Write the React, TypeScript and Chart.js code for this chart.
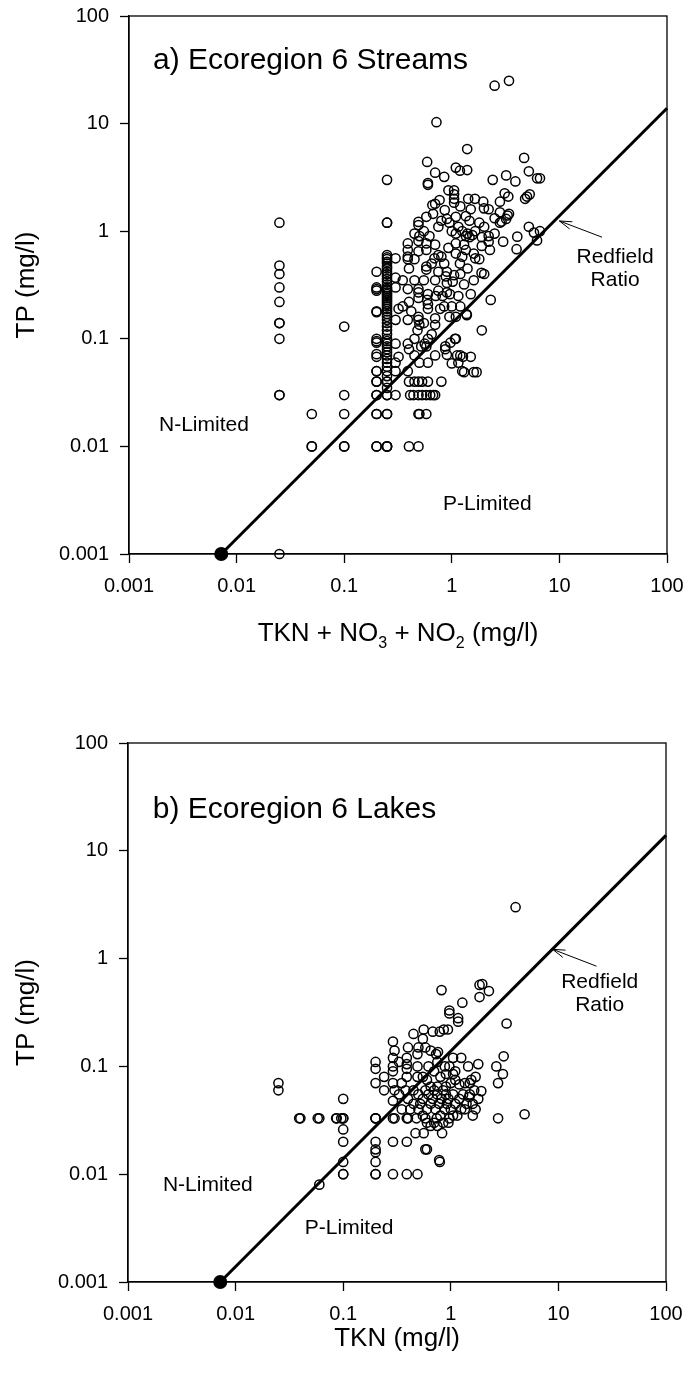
import React, { useEffect, useRef } from "react";
import { Chart, registerables } from "chart.js";

Chart.register(...registerables);

const FONT = '"Liberation Sans", Arial, Helvetica, sans-serif';

const axisTicks = [0.001, 0.01, 0.1, 1, 10, 100];
const axisTickLabels = ["0.001", "0.01", "0.1", "1", "10", "100"];

// Redfield ratio line (TN vs TP), start point marked with a filled dot
const redfieldLine: [number, number][] = [[0.0072, 0.001], [100, 13.9]];

// ---------- a) Ecoregion 6 Streams : [TKN+NO3+NO2, TP] ----------
const streamLowN: [number, number][] = [
  [0.025, 1.2], [0.025, 0.48], [0.025, 0.4], [0.025, 0.3], [0.025, 0.22], [0.025, 0.14], [0.025, 0.14],
  [0.025, 0.1], [0.025, 0.03], [0.025, 0.03], [0.025, 0.001],
  [0.05, 0.02], [0.05, 0.01], [0.05, 0.01],
  [0.1, 0.13], [0.1, 0.03], [0.1, 0.02], [0.1, 0.01], [0.1, 0.01],
];

const streamColumns: [number, number][] = [
  [0.2, 0.42], [0.2, 0.3], [0.2, 0.29], [0.2, 0.28], [0.2, 0.18], [0.2, 0.177], [0.2, 0.1], [0.2, 0.095],
  [0.2, 0.092], [0.2, 0.072], [0.2, 0.068], [0.2, 0.05], [0.2, 0.05], [0.2, 0.04], [0.2, 0.04], [0.2, 0.03],
  [0.2, 0.03], [0.2, 0.02], [0.2, 0.02], [0.2, 0.01], [0.2, 0.01],
  [0.25, 3.0], [0.25, 1.2], [0.25, 1.2], [0.25, 0.6], [0.25, 0.57], [0.25, 0.55], [0.25, 0.52], [0.25, 0.5],
  [0.25, 0.47], [0.25, 0.45], [0.25, 0.42], [0.25, 0.4], [0.25, 0.38], [0.25, 0.36], [0.25, 0.34], [0.25, 0.32],
  [0.25, 0.3], [0.25, 0.29], [0.25, 0.28], [0.25, 0.27], [0.25, 0.26], [0.25, 0.25], [0.25, 0.24], [0.25, 0.23],
  [0.25, 0.22], [0.25, 0.21], [0.25, 0.2], [0.25, 0.19], [0.25, 0.18], [0.25, 0.17], [0.25, 0.16], [0.25, 0.15],
  [0.25, 0.14], [0.25, 0.13], [0.25, 0.12], [0.25, 0.11], [0.25, 0.1], [0.25, 0.095], [0.25, 0.09], [0.25, 0.085],
  [0.25, 0.08], [0.25, 0.075], [0.25, 0.07], [0.25, 0.065], [0.25, 0.06], [0.25, 0.055], [0.25, 0.05], [0.25, 0.045],
  [0.25, 0.04], [0.25, 0.04], [0.25, 0.035], [0.25, 0.03], [0.25, 0.03], [0.25, 0.02], [0.25, 0.02], [0.25, 0.01],
  [0.25, 0.01], [0.25, 0.01],
  [0.3, 0.56], [0.3, 0.37], [0.3, 0.3], [0.3, 0.15], [0.3, 0.09], [0.3, 0.06], [0.3, 0.05], [0.3, 0.03],
];

const streamRows: [number, number][] = [
  [0.4, 0.04], [0.45, 0.04], [0.49, 0.04], [0.53, 0.04], [0.6, 0.04], [0.8, 0.04],
  [0.41, 0.03], [0.44, 0.03], [0.49, 0.03], [0.53, 0.03], [0.58, 0.03], [0.63, 0.03], [0.67, 0.03], [0.7, 0.03],
  [0.49, 0.02], [0.58, 0.02], [0.5, 0.02],
  [0.4, 0.01], [0.49, 0.01],
  [0.32, 0.19], [0.32, 0.068], [0.39, 0.05], [0.45, 0.07], [0.5, 0.06],
];

const streamCloud: [number, number][] = [
  [0.39, 0.77], [0.39, 0.67], [0.39, 0.58], [0.39, 0.55], [0.49, 0.81], [0.49, 0.65], [0.58, 0.77], [0.58, 0.67],
  [0.58, 0.47], [0.58, 0.44], [0.69, 0.56], [0.8, 0.58], [0.93, 0.7], [1.09, 0.95], [1.09, 0.77], [1.09, 0.62],
  [1.19, 0.5], [1.35, 0.9], [1.4, 0.95], [1.46, 0.88], [1.55, 0.92], [1.9, 0.88], [1.9, 0.73], [1.6, 0.62],
  [1.65, 0.56], [1.35, 0.67], [1.25, 0.58], [2.2, 0.9], [2.0, 1.1], [1.65, 1.0],
  [0.9, 0.42], [0.88, 0.38], [0.9, 0.33], [1.05, 0.39], [1.02, 0.34], [0.9, 0.27], [0.82, 0.25], [0.96, 0.26],
  [1.15, 0.25], [0.71, 0.25], [0.6, 0.26], [0.6, 0.21], [0.6, 0.19], [0.59, 0.23], [0.49, 0.29], [0.49, 0.27],
  [0.49, 0.24], [0.39, 0.29], [0.4, 0.22], [0.39, 0.15], [0.49, 0.16], [0.49, 0.15], [0.5, 0.135], [0.7, 0.155],
  [0.7, 0.135], [0.65, 0.11], [0.78, 0.19], [0.95, 0.16], [1.09, 0.16], [0.48, 0.12], [0.6, 0.1], [0.56, 0.09],
  [0.52, 0.085], [0.39, 0.09], [0.4, 0.08], [0.6, 0.06], [0.7, 0.07], [0.87, 0.08], [0.58, 0.085],
  [2.3, 0.23], [1.9, 0.12], [1.37, 0.17], [1.5, 0.26], [1.07, 0.1], [1.27, 0.068], [1.5, 0.068], [1.3, 0.049],
  [1.6, 0.049], [1.7, 0.049], [0.9, 0.071], [0.97, 0.092], [0.87, 0.085], [1.38, 0.166], [1.15, 0.06], [1.25, 0.05],
  [1.09, 0.1], [1.0, 0.059], [1.12, 0.07], [1.2, 0.07],
  [0.45, 0.95], [0.5, 0.9], [0.55, 1.0], [0.62, 0.9], [0.75, 1.1], [0.8, 1.25], [0.95, 1.2], [1.0, 1.0],
  [1.15, 1.1], [1.25, 1.0], [1.3, 0.75], [0.7, 0.75], [0.75, 0.6], [0.85, 0.5], [0.65, 0.5], [0.45, 0.55],
  [0.4, 0.45], [0.45, 0.35], [0.55, 0.35], [0.7, 0.35], [0.75, 0.42], [1.2, 0.4], [1.3, 0.32], [1.4, 0.45],
  [1.6, 0.35], [1.8, 0.55], [2.2, 0.8], [2.5, 0.95], [3.0, 0.8], [0.75, 0.28], [0.85, 0.2], [1.0, 0.2],
  [1.2, 0.2], [0.45, 0.1], [0.35, 0.35], [0.35, 0.2], [0.42, 0.18], [0.55, 0.14],
];

const streamHigh: [number, number][] = [
  [2.5, 22.5], [3.4, 25], [0.72, 10.3], [1.39, 5.8], [4.7, 4.8], [0.59, 4.4], [0.7, 3.5], [0.85, 3.2],
  [1.09, 3.9], [1.19, 3.65], [1.39, 3.7], [0.6, 2.8], [0.6, 2.7], [2.4, 3.0], [3.2, 3.3], [3.9, 2.9],
  [5.2, 3.6], [6.2, 3.1], [6.6, 3.1], [0.93, 2.4], [1.05, 2.4], [1.05, 2.2], [1.05, 2.0], [1.05, 1.84],
  [0.77, 1.95], [0.66, 1.75], [0.7, 1.8], [1.42, 2.0], [1.64, 2.0], [1.96, 1.88], [1.99, 1.63], [2.8, 1.88],
  [3.1, 2.25], [3.35, 2.1], [4.8, 2.0], [5.0, 2.1], [5.3, 2.2], [0.49, 1.14], [0.49, 1.22], [0.58, 1.36],
  [0.67, 1.45], [0.86, 1.57], [1.09, 1.36], [1.35, 1.38], [1.46, 1.25], [2.5, 1.32], [2.9, 1.23], [2.8, 1.2],
  [3.2, 1.3], [3.4, 1.45], [3.3, 1.4], [5.2, 1.1], [5.8, 0.97], [6.2, 0.82], [6.6, 1.0], [4.06, 0.89],
  [4.0, 0.68], [2.26, 0.67], [1.89, 0.41], [2.0, 0.4], [2.8, 1.5], [2.2, 1.6], [1.8, 1.2], [1.5, 1.6],
  [1.2, 1.7], [0.9, 1.3],
];

// ---------- b) Ecoregion 6 Lakes : [TKN, TP] ----------
const lakeLowN: [number, number][] = [
  [0.025, 0.07], [0.025, 0.06],
  [0.04, 0.033], [0.06, 0.033], [0.087, 0.033], [0.1, 0.033], [0.1, 0.033], [0.1, 0.05], [0.1, 0.026],
  [0.1, 0.02], [0.1, 0.013], [0.1, 0.01], [0.1, 0.01], [0.06, 0.008],
  [0.2, 0.11], [0.2, 0.095], [0.2, 0.07], [0.24, 0.08], [0.24, 0.06], [0.2, 0.033], [0.2, 0.033],
  [0.2, 0.02], [0.2, 0.016], [0.2, 0.013], [0.2, 0.01], [0.2, 0.01],
];

const lakeHigh: [number, number][] = [
  [4.0, 3.0], [0.82, 0.51], [1.28, 0.39], [1.85, 0.57], [1.96, 0.58], [2.26, 0.5], [1.85, 0.44], [0.97, 0.33],
  [0.97, 0.31], [1.17, 0.28], [1.17, 0.26], [0.56, 0.22], [0.68, 0.21], [0.79, 0.21], [0.86, 0.22], [0.94, 0.22],
  [3.3, 0.25], [0.29, 0.17], [0.58, 0.15], [0.76, 0.136],
];

const lakeCloud: [number, number][] = [
  [0.29, 0.12], [0.29, 0.1], [0.29, 0.09], [0.29, 0.07], [0.29, 0.048],
  [0.39, 0.12], [0.39, 0.105], [0.39, 0.095], [0.39, 0.08], [0.49, 0.13], [0.49, 0.1], [0.49, 0.08],
  [0.73, 0.13], [0.88, 0.1], [1.05, 0.12], [1.25, 0.12], [0.97, 0.1],
  [1.45, 0.1], [1.8, 0.105], [1.7, 0.08], [1.55, 0.075], [1.35, 0.07], [1.5, 0.07], [1.2, 0.068],
  [1.1, 0.075], [1.05, 0.085], [1.92, 0.059], [1.48, 0.052], [2.65, 0.1], [3.05, 0.085], [2.75, 0.07],
  [3.1, 0.124], [4.85, 0.036], [2.75, 0.033],
  [0.45, 0.06], [0.5, 0.055], [0.52, 0.045], [0.55, 0.05], [0.58, 0.06], [0.6, 0.04], [0.62, 0.055],
  [0.65, 0.045], [0.68, 0.05], [0.7, 0.06], [0.72, 0.04], [0.75, 0.055], [0.78, 0.045], [0.8, 0.035],
  [0.82, 0.05], [0.85, 0.06], [0.88, 0.04], [0.9, 0.055], [0.92, 0.045], [0.95, 0.05], [1.0, 0.04],
  [1.05, 0.055], [1.1, 0.045], [1.15, 0.035], [1.2, 0.05], [1.25, 0.04], [0.55, 0.035], [0.6, 0.03],
  [0.65, 0.028], [0.7, 0.03], [0.75, 0.028], [0.85, 0.03], [0.5, 0.04], [0.45, 0.045], [0.4, 0.05],
  [0.42, 0.04], [0.65, 0.065], [0.75, 0.065], [0.9, 0.065], [1.0, 0.07], [0.6, 0.075], [0.8, 0.08],
  [0.7, 0.09], [0.55, 0.08], [0.62, 0.1], [0.75, 0.11], [0.9, 0.085], [1.1, 0.09], [1.3, 0.055],
  [1.4, 0.045], [1.35, 0.04], [1.6, 0.045], [1.7, 0.04], [1.8, 0.05], [1.65, 0.06], [1.5, 0.055],
  [1.6, 0.035], [0.95, 0.03], [1.05, 0.035], [0.35, 0.04], [0.38, 0.06], [0.33, 0.055], [0.3, 0.06],
  [0.35, 0.07], [0.33, 0.11], [0.3, 0.14], [0.45, 0.2], [0.55, 0.18], [0.5, 0.15], [0.65, 0.14], [0.4, 0.15],
];

const lakeRows: [number, number][] = [
  [0.039, 0.033], [0.058, 0.033], [0.086, 0.033], [0.096, 0.033], [0.2, 0.033], [0.29, 0.033], [0.39, 0.033],
  [0.48, 0.033], [0.58, 0.033], [0.74, 0.033], [0.97, 0.033], [0.3, 0.033], [0.4, 0.033],
  [0.2, 0.017], [0.29, 0.02], [0.39, 0.02], [0.29, 0.01], [0.39, 0.01], [0.49, 0.01], [0.58, 0.017],
  [0.78, 0.0135], [0.56, 0.024], [0.47, 0.024], [0.83, 0.024], [0.6, 0.017], [0.79, 0.013],
];

type Note = { lines: string[]; x: number; y: number; size: number; align: CanvasTextAlign };
type Seg = { t: string; sub?: boolean };
type PanelSpec = {
  points: [number, number][];
  notes: Note[];
  arrow: { tail: [number, number]; head: [number, number] };
  xTitle: Seg[];
  xTitleOffset: number;
  padTop: number;
  padRight: number;
  yAxisWidth: number;
  xAxisHeight: number;
};

const streamsNotes: Note[] = [
  { lines: ["a) Ecoregion 6 Streams"], x: 0.00167, y: 38.5, size: 30, align: "left" },
  { lines: ["N-Limited"], x: 0.0019, y: 0.0158, size: 21, align: "left" },
  { lines: ["P-Limited"], x: 0.828, y: 0.00292, size: 21, align: "left" },
  { lines: ["Redfield", "Ratio"], x: 32.9, y: 0.45, size: 21, align: "center" },
];
const lakesNotes: Note[] = [
  { lines: ["b) Ecoregion 6 Lakes"], x: 0.0017, y: 23.9, size: 30, align: "left" },
  { lines: ["N-Limited"], x: 0.00211, y: 0.00787, size: 21, align: "left" },
  { lines: ["P-Limited"], x: 0.044, y: 0.00314, size: 21, align: "left" },
  { lines: ["Redfield", "Ratio"], x: 24.2, y: 0.468, size: 21, align: "center" },
];

const streamsSpec: PanelSpec = {
  points: [...streamLowN, ...streamColumns, ...streamRows, ...streamCloud, ...streamHigh],
  notes: streamsNotes,
  arrow: { tail: [24.9, 0.88], head: [10, 1.245] },
  xTitle: [{ t: "TKN + NO" }, { t: "3", sub: true }, { t: " + NO" }, { t: "2", sub: true }, { t: " (mg/l)" }],
  xTitleOffset: 80,
  padTop: 16,
  padRight: 20,
  yAxisWidth: 129,
  xAxisHeight: 133,
};

const lakesSpec: PanelSpec = {
  points: [...lakeLowN, ...lakeHigh, ...lakeCloud, ...lakeRows],
  notes: lakesNotes,
  arrow: { tail: [22.6, 0.85], head: [8.83, 1.22] },
  xTitle: [{ t: "TKN (mg/l)" }],
  xTitleOffset: 57,
  padTop: 56,
  padRight: 21,
  yAxisWidth: 128,
  xAxisHeight: 92,
};

function makeDecor(spec: PanelSpec) {
  return {
    id: "decor",
    afterDatasetsDraw(chart: any) {
      const { ctx, chartArea: a, scales } = chart;
      const xs = scales.x;
      const ys = scales.y;
      ctx.save();
      ctx.strokeStyle = "#000";
      ctx.lineWidth = 1.3;
      ctx.strokeRect(a.left, a.top, a.right - a.left, a.bottom - a.top);

      ctx.fillStyle = "#000";
      for (const n of spec.notes) {
        ctx.font = `${n.size}px ${FONT}`;
        ctx.textAlign = n.align;
        ctx.textBaseline = "middle";
        const px = xs.getPixelForValue(n.x);
        const py = ys.getPixelForValue(n.y);
        const lh = n.size * 1.1;
        n.lines.forEach((t, i) => ctx.fillText(t, px, py + (i - (n.lines.length - 1) / 2) * lh));
      }

      const hx = xs.getPixelForValue(spec.arrow.head[0]);
      const hy = ys.getPixelForValue(spec.arrow.head[1]);
      const tx = xs.getPixelForValue(spec.arrow.tail[0]);
      const ty = ys.getPixelForValue(spec.arrow.tail[1]);
      ctx.lineWidth = 1;
      ctx.beginPath();
      ctx.moveTo(tx, ty);
      ctx.lineTo(hx, hy);
      ctx.stroke();
      const ang = Math.atan2(ty - hy, tx - hx);
      const L = 13;
      const sp = 0.3;
      ctx.beginPath();
      ctx.moveTo(hx + L * Math.cos(ang + sp), hy + L * Math.sin(ang + sp));
      ctx.lineTo(hx, hy);
      ctx.lineTo(hx + L * Math.cos(ang - sp), hy + L * Math.sin(ang - sp));
      ctx.stroke();

      // x-axis title with subscripts
      const size = 26;
      const subSize = 16;
      let total = 0;
      for (const s of spec.xTitle) {
        ctx.font = `${s.sub ? subSize : size}px ${FONT}`;
        total += ctx.measureText(s.t).width;
      }
      let cx = (a.left + a.right) / 2 - total / 2;
      const cy = a.bottom + spec.xTitleOffset;
      ctx.textAlign = "left";
      ctx.textBaseline = "middle";
      for (const s of spec.xTitle) {
        ctx.font = `${s.sub ? subSize : size}px ${FONT}`;
        ctx.fillText(s.t, cx, s.sub ? cy + 10 : cy);
        cx += ctx.measureText(s.t).width;
      }
      ctx.restore();
    },
  };
}

function logAxis(fitSize: (s: any) => void, title?: string) {
  return {
    type: "logarithmic" as const,
    min: 0.001,
    max: 100,
    afterBuildTicks: (scale: any) => {
      scale.ticks = axisTicks.map((v) => ({ value: v }));
    },
    afterFit: (s: any) => {
      fitSize(s);
      s.paddingLeft = 0;
      s.paddingRight = 0;
      s.paddingTop = 0;
      s.paddingBottom = 0;
    },
    ticks: {
      color: "#000",
      padding: 11,
      font: { family: FONT, size: 20 },
      callback: (v: any) => {
        const i = axisTicks.findIndex((t) => Math.abs(t - Number(v)) < t * 1e-6);
        return i >= 0 ? axisTickLabels[i] : "";
      },
    },
    grid: {
      display: true,
      drawOnChartArea: false,
      drawTicks: true,
      tickLength: 9,
      tickColor: "#000",
      tickWidth: 1.3,
    },
    border: { display: true, color: "#000", width: 1.3 },
    title: title
      ? { display: true, text: title, color: "#000", font: { family: FONT, size: 26 }, padding: { top: 11, bottom: 0 } }
      : { display: false },
  };
}

function buildConfig(spec: PanelSpec): any {
  return {
    type: "scatter",
    data: {
      datasets: [
        {
          type: "line",
          data: redfieldLine.map(([x, y]) => ({ x, y })),
          borderColor: "#000",
          borderWidth: 3,
          pointRadius: [7, 0],
          pointBackgroundColor: "#000",
          pointBorderColor: "#000",
          pointBorderWidth: 0,
          showLine: true,
          fill: false,
          tension: 0,
          clip: false,
        },
        {
          data: spec.points.map(([x, y]) => ({ x, y })),
          pointStyle: "circle",
          pointRadius: 4.6,
          pointBorderWidth: 1.5,
          borderColor: "#000",
          backgroundColor: "rgba(0,0,0,0)",
          clip: false,
        },
      ],
    },
    options: {
      responsive: false,
      animation: false,
      devicePixelRatio: 1,
      layout: { padding: { top: spec.padTop, right: spec.padRight, left: 0, bottom: 0 } },
      plugins: { legend: { display: false }, tooltip: { enabled: false }, title: { display: false } },
      scales: {
        x: { ...logAxis((s: any) => { s.height = spec.xAxisHeight; }), position: "bottom" },
        y: { ...logAxis((s: any) => { s.width = spec.yAxisWidth; }, "TP (mg/l)"), position: "left" },
      },
    },
    plugins: [makeDecor(spec)],
  };
}

function Panel({ spec }: { spec: PanelSpec }) {
  const ref = useRef<HTMLCanvasElement | null>(null);
  useEffect(() => {
    if (!ref.current) return;
    const chart = new Chart(ref.current, buildConfig(spec));
    return () => chart.destroy();
  }, [spec]);
  return <canvas ref={ref} width={687} height={687} style={{ display: "block", width: 687, height: 687 }} />;
}

export default function App() {
  return (
    <div style={{ position: "absolute", left: 0, top: 0, width: 687, height: 1374, background: "#fff" }}>
      <Panel spec={streamsSpec} />
      <Panel spec={lakesSpec} />
    </div>
  );
}
